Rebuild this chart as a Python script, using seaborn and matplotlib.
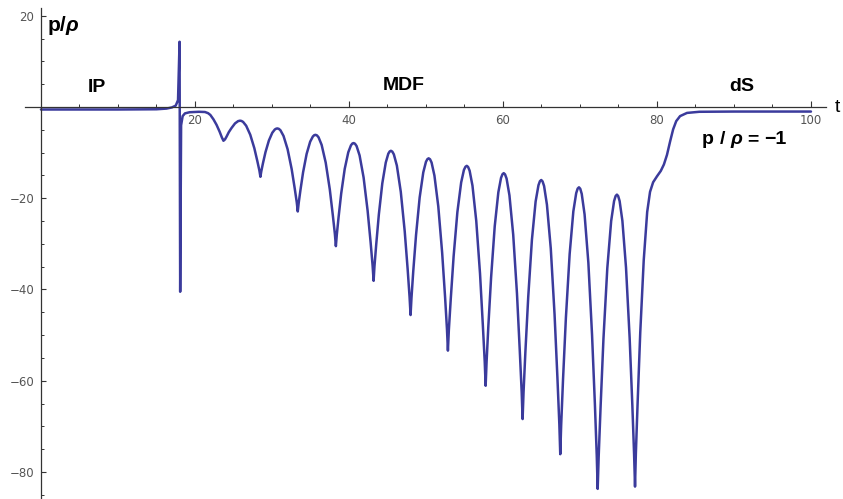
import matplotlib
matplotlib.use("Agg")
import matplotlib.pyplot as plt
import seaborn as sns
import numpy as np
import pandas as pd

# --- data (t, p/rho) ---
t_ip = [0.0, 5.0, 10.0, 15.0, 16.3, 17.0, 17.5, 17.8, 18.0, 18.08, 18.2, 18.4, 18.7, 19.3, 20.5,
        21.3, 21.7, 22.0, 22.4, 22.8, 23.2, 23.5, 23.7, 23.9, 24.1, 24.4, 24.75, 25.2, 25.6]
p_ip = [-0.55, -0.55, -0.55, -0.5, -0.35, -0.1, 0.3, 1.5, 14.3, -40.5, -4.0, -2.0, -1.4, -1.15, -1.05,
        -1.1, -1.35, -1.75, -2.7, -3.9, -5.4, -6.7, -7.4, -7.1, -6.5, -5.5, -4.6, -3.6, -3.1]

t_mdf = [25.85, 26.04, 26.25, 26.65, 27.18, 27.71, 28.10, 28.37, 28.5,
         28.61, 28.83, 29.16, 29.6, 30.04, 30.37, 30.55, 30.7,
         30.89, 31.10, 31.50, 32.03, 32.56, 32.95, 33.22, 33.35,
         33.47, 33.70, 34.04, 34.50, 34.96, 35.31, 35.49, 35.65,
         35.84, 36.05, 36.45, 36.98, 37.51, 37.90, 38.17, 38.3,
         38.42, 38.65, 38.99, 39.45, 39.91, 40.26, 40.44, 40.6,
         40.78, 40.99, 41.38, 41.90, 42.42, 42.81, 43.07, 43.2,
         43.31, 43.54, 43.88, 44.33, 44.78, 45.11, 45.29, 45.45,
         45.63, 45.83, 46.22, 46.73, 47.24, 47.62, 47.87, 48.0,
         48.12, 48.35, 48.71, 49.18, 49.65, 50.00, 50.19, 50.35,
         50.53, 50.73, 51.10, 51.60, 52.10, 52.48, 52.73, 52.85,
         52.97, 53.22, 53.59, 54.08, 54.57, 54.93, 55.13, 55.3,
         55.47, 55.67, 56.04, 56.53, 57.02, 57.38, 57.63, 57.75,
         57.87, 58.10, 58.46, 58.93, 59.40, 59.75, 59.94, 60.1,
         60.27, 60.47, 60.84, 61.33, 61.82, 62.18, 62.43, 62.55,
         62.67, 62.91, 63.28, 63.76, 64.24, 64.61, 64.80, 64.97,
         65.14, 65.34, 65.71, 66.21, 66.70, 67.07, 67.32, 67.44,
         67.56, 67.80, 68.17, 68.66, 69.14, 69.51, 69.70, 69.87,
         70.04, 70.23, 70.60, 71.09, 71.57, 71.94, 72.18, 72.3,
         72.43, 72.68, 73.05, 73.55, 74.05, 74.43, 74.63, 74.8,
         74.96, 75.15, 75.51, 75.98, 76.45, 76.80, 77.03, 77.15]
p_mdf = [-3.0, -3.06, -3.27, -4.11, -6.08, -9.03, -11.86, -13.95, -15.3,
         -14.13, -12.33, -9.89, -7.35, -5.65, -4.93, -4.75, -4.7,
         -4.79, -5.10, -6.34, -9.25, -13.62, -17.80, -20.90, -22.9,
         -21.05, -18.20, -14.33, -10.30, -7.61, -6.47, -6.18, -6.1,
         -6.22, -6.64, -8.30, -12.20, -18.06, -23.67, -27.82, -30.5,
         -28.01, -24.17, -18.97, -13.55, -9.93, -8.40, -8.01, -7.9,
         -8.05, -8.56, -10.62, -15.45, -22.70, -29.64, -34.78, -38.1,
         -34.97, -30.12, -23.57, -16.73, -12.17, -10.23, -9.74, -9.6,
         -9.78, -10.39, -12.84, -18.60, -27.24, -35.52, -41.64, -45.6,
         -41.82, -35.98, -28.08, -19.84, -14.34, -12.01, -11.42, -11.25,
         -11.46, -12.18, -15.04, -21.79, -31.90, -41.60, -48.76, -53.4,
         -48.95, -42.06, -32.75, -23.03, -16.55, -13.79, -13.10, -12.9,
         -13.14, -13.96, -17.24, -24.95, -36.52, -47.60, -55.80, -61.1,
         -55.97, -48.05, -37.33, -26.15, -18.69, -15.53, -14.73, -14.5,
         -14.77, -15.69, -19.35, -27.98, -40.91, -53.31, -62.47, -68.4,
         -62.64, -53.73, -41.68, -29.10, -20.72, -17.15, -16.26, -16.0,
         -16.30, -17.32, -21.41, -31.03, -45.45, -59.27, -69.49, -76.1,
         -69.67, -59.72, -46.27, -32.23, -22.87, -18.89, -17.89, -17.6,
         -17.93, -19.05, -23.55, -34.13, -49.99, -65.19, -76.43, -83.7,
         -76.61, -65.64, -50.81, -35.33, -25.01, -20.62, -19.52, -19.2,
         -19.52, -20.61, -24.96, -35.20, -50.56, -65.28, -76.16, -83.2]

t_ds = [77.26, 77.49, 77.83, 78.28, 78.73, 79.1, 79.5, 80.0, 80.5, 80.9, 81.3, 81.7,
        82.1, 82.5, 83.0, 83.9, 85.5, 90.0, 100.0]
p_ds = [-75.9, -64.7, -49.4, -33.6, -23.0, -18.6, -16.5, -15.2, -14.0, -12.6, -10.5, -7.6,
        -4.9, -3.1, -2.0, -1.3, -1.05, -1.0, -1.0]

x_major = [20, 40, 60, 80, 100]
y_major = [20, -20, -40, -60, -80]

df = pd.DataFrame({"t": t_ip + t_mdf + t_ds, "p": p_ip + p_mdf + p_ds})

sns.set_style("white")
plt.rcParams["font.family"] = ["DejaVu Sans"]

fig = plt.figure(figsize=(8.43, 4.99), dpi=100)
ax = fig.add_axes([0, 0, 1, 1])
ax.set_facecolor("white")

sns.lineplot(data=df, x="t", y="p", ax=ax, color="#3b3b9c", lw=1.8,
             estimator=None, sort=False)
for ln in ax.get_lines():
    ln.set_solid_joinstyle("round")

ax.set_xlim(-5.32, 104.16)
ax.set_ylim(-85.92, 23.45)

for s in ["top", "right"]:
    ax.spines[s].set_visible(False)
ax.spines["left"].set_position(("data", 0))
ax.spines["bottom"].set_position(("data", 0))
ax.spines["left"].set_bounds(-85.92, 21.7)
ax.spines["bottom"].set_bounds(-2.1, 101.9)
for s in ["left", "bottom"]:
    ax.spines[s].set_color("#333333")
    ax.spines[s].set_linewidth(0.9)

ax.set_xticks(x_major)
ax.set_xticklabels([str(v) for v in x_major])
ax.set_xticks(np.arange(5, 101, 5), minor=True)
ax.set_yticks(y_major)
ax.set_yticklabels([str(v).replace("-", "\u2212") for v in y_major])
ax.set_yticks(np.arange(-85, 21, 5), minor=True)

ax.tick_params(axis="both", which="both", bottom=True, left=True, top=False, right=False)
ax.tick_params(axis="x", which="major", direction="in", length=4.0, width=0.8,
               color="#333333", labelsize=8.5, labelcolor="#555555", pad=5)
ax.tick_params(axis="x", which="minor", direction="in", length=2.3, width=0.7,
               color="#333333")
ax.tick_params(axis="y", which="major", direction="in", length=3.5, width=0.8,
               color="#333333", labelsize=8.5, labelcolor="#555555", pad=5)
ax.tick_params(axis="y", which="minor", direction="in", length=2.0, width=0.7,
               color="#333333")
ax.set_xlabel("")
ax.set_ylabel("")
ax.grid(False)

bold = dict(fontfamily="Liberation Sans", fontweight="bold", color="black")
ax.text(7.27, 4.2, "IP", fontsize=14, ha="center", va="center", **bold)
ax.text(47.1, 4.8, "MDF", fontsize=14, ha="center", va="center", **bold)
ax.text(91.0, 4.4, "dS", fontsize=14, ha="center", va="center", **bold)
ax.text(103.4, -0.2, "t", fontsize=14, ha="center", va="center",
        fontfamily="Liberation Sans", color="black")

fig.canvas.draw()
renderer = fig.canvas.get_renderer()


def chain(x0, y0, pieces, size):
    """Place text pieces one after another on a common baseline."""
    x = x0
    for txt, italic, gap_px in pieces:
        if gap_px:
            xd = ax.transData.transform((x, y0))[0] + gap_px
            x = ax.transData.inverted().transform((xd, 0))[0]
        tobj = ax.text(x, y0, txt, fontsize=size, ha="left", va="baseline",
                       fontstyle="italic" if italic else "normal", **bold)
        bb = tobj.get_window_extent(renderer)
        x = ax.transData.inverted().transform((bb.x1, 0))[0]


# axis label p/rho (rho italic, as in the reference)
chain(0.8, 16.6, [("p/", False, 0), ("\u03c1", True, 0)], 15)
# p / rho = -1
chain(85.85, -8.1, [("p", False, 0), ("/", False, 5.5), ("\u03c1", True, 5.5),
                    ("=", False, 5.5), ("\u22121", False, 5.5)], 14)

fig.savefig("out.png", dpi=100)
